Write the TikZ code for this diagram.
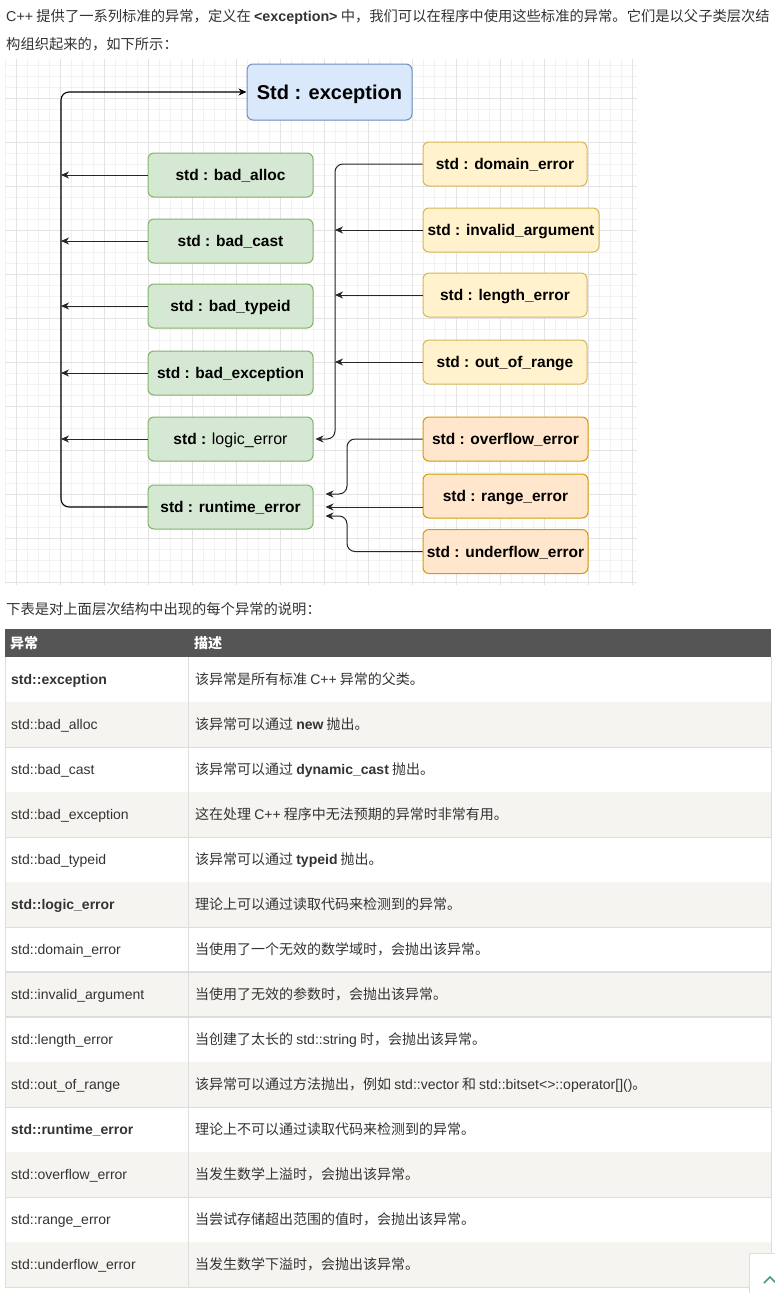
\documentclass[tikz,border=0pt]{standalone}
\usepackage{fontspec}
\setmainfont{Liberation Sans}
\newfontfamily\cjk{Noto Sans CJK SC}
\newfontfamily\lat{Liberation Sans}
\newcommand\en[1]{{\lat #1}}
\usetikzlibrary{
  calc
  , arrows.meta
}
\definecolor{excFill}{HTML}{DAE8FC}
\definecolor{excLine}{HTML}{6C8EBF}
\definecolor{grnFill}{HTML}{D5E8D4}
\definecolor{grnLine}{HTML}{82B366}
\definecolor{ylwFill}{HTML}{FFF2CC}
\definecolor{ylwLine}{HTML}{D6B656}
\definecolor{orgFill}{HTML}{FFE6CC}
\definecolor{orgLine}{HTML}{D79B00}
\definecolor{gridMinor}{HTML}{F2F2F2}
\definecolor{gridMajor}{HTML}{E3E3E3}
\definecolor{headFill}{HTML}{555555}
\definecolor{rowFill}{HTML}{F5F4F0}
\definecolor{rowLine}{HTML}{DDDDDD}
\definecolor{txtGray}{HTML}{333333}
\definecolor{topBtn}{HTML}{4A9A84}

\tikzset{
  clsbox/.style={draw, rounded corners=6pt, line width=1pt,
    minimum height=44pt, minimum width=165pt, inner sep=0pt,
    text height=11pt, text depth=0pt,
    font=\fontsize{15.5}{18}\selectfont\bfseries},
  basecls/.style={clsbox, fill=grnFill, draw=grnLine},
  logiccls/.style={clsbox, fill=ylwFill, draw=ylwLine, minimum width=164pt},
  rtcls/.style={clsbox, fill=orgFill, draw=orgLine},
  inherit/.style={draw=black!85, line width=1pt, rounded corners=8pt,
    -{Stealth[length=8pt,width=7pt,inset=2.5pt]}},
  pagetext/.style={anchor=base west, inner sep=0pt, text=txtGray,
    font=\fontsize{14.3}{17}\selectfont\cjk},
  celltext/.style={anchor=base west, inner sep=0pt, text=txtGray,
    font=\fontsize{14}{17}\selectfont},
}

\begin{document}
\begin{tikzpicture}[x=1pt, y=-1pt]
  \useasboundingbox[fill=white] (0,0) rectangle (775,1293);

  % intro text
  \node[pagetext] (introA) at (6,21) {\en{C++} 提供了一系列标准的异常，定义在 \en{\bfseries <exception>} 中，我们可以在程序中使用这些标准的异常。它们是以父子类层次结};
  \node[pagetext] (introB) at (6,49) {构组织起来的，如下所示：};

  % grid of the diagram
  \foreach \gx in {5,16,...,632} \draw[gridMinor] (\gx,59) -- (\gx,585);
  \foreach \gy in {65,76,...,582} \draw[gridMinor] (5,\gy) -- (637,\gy);
  \foreach \gx in {16,60,...,632} \draw[gridMajor] (\gx,59) -- (\gx,585);
  \foreach \gy in {98,142,...,582} \draw[gridMajor] (5,\gy) -- (637,\gy);

  % classes
  \node [clsbox,
    fill=excFill,
    draw=excLine,
    minimum height=56pt,
    text height=14.3pt,
    font=\fontsize{20}{24}\selectfont\bfseries,
  ] (exc) at (329.5,92) {Std : exception};

  \node[basecls] (bdAlloc) at (230.5,175) {std : bad\_alloc};
  \node[basecls] (bdCast) at (230.5,241) {std : bad\_cast};
  \node[basecls] (bdTypeid) at (230.5,306) {std : bad\_typeid};
  \node[basecls] (bdExc) at (230.5,373) {std : bad\_exception};
  \node[basecls] (logicErr) at (230.5,439) {std : {\mdseries\fontsize{16}{18}\selectfont logic\_error}};
  \node[basecls] (rtErr) at (230.5,507) {std : runtime\_error};

  \node[logiccls] (domErr) at (505,164) {std : domain\_error};
  \node[logiccls, minimum width=176pt] (invArg) at (511,230) {std : invalid\_argument};
  \node[logiccls] (lenErr) at (505,295) {std : length\_error};
  \node[logiccls] (oorErr) at (505,362) {std : out\_of\_range};

  \node[rtcls] (ovfErr) at (505.5,439) {std : overflow\_error};
  \node[rtcls] (rngErr) at (505.5,496) {std : range\_error};
  \node[rtcls] (unfErr) at (505.5,551.5) {std : underflow\_error};

  % connectors
  \coordinate (trunkL) at (61,92);
  \coordinate (trunkY) at (335,164);
  \coordinate (trunkO) at (347,439);
  \coordinate (rtIn) at ($(rtErr.east)+(12,0)$);

  \draw[inherit, line width=1.1pt, draw=black] (rtErr.west) -| (trunkL) -- (exc.west);
  \foreach \cls in {bdAlloc, bdCast, bdTypeid, bdExc, logicErr}
    \draw[inherit] (\cls.west) -- (\cls.west -| trunkL);

  \draw[inherit] (domErr.west) -- (trunkY) |- ($(logicErr.east)+(2,0)$);
  \foreach \cls in {invArg, lenErr, oorErr}
    \draw[inherit] (\cls.west) -- (\cls.west -| trunkY);

  \draw[inherit] (ovfErr.west) -| ($(rtIn -| trunkO)+(0,-13)$) -- ($(rtIn)+(0,-13)$);
  \draw[inherit] (rngErr.west |- rtIn) -- (rtIn);
  \draw[inherit] (unfErr.west) -| ($(rtIn -| trunkO)+(0,9)$) -- ($(rtIn)+(0,9)$);

  % table
  \node[pagetext] (tblCap) at (6,614) {下表是对上面层次结构中出现的每个异常的说明：};
  \fill[headFill] (5,629) rectangle (771,657);
  \node[celltext, text=white, font=\fontsize{14}{17}\selectfont\cjk\bfseries] (hdName) at (10,648) {异常};
  \node[celltext, text=white, font=\fontsize{14}{17}\selectfont\cjk\bfseries] (hdDesc) at (194,648) {描述};

  \foreach \nm/\ds [count=\i from 0] in {
    {\bfseries std::exception}/{该异常是所有标准 \en{C++} 异常的父类。},
    {std::bad\_alloc}/{该异常可以通过 \en{\bfseries new} 抛出。},
    {std::bad\_cast}/{该异常可以通过 \en{\bfseries dynamic\_cast} 抛出。},
    {std::bad\_exception}/{这在处理 \en{C++} 程序中无法预期的异常时非常有用。},
    {std::bad\_typeid}/{该异常可以通过 \en{\bfseries typeid} 抛出。},
    {\bfseries std::logic\_error}/{理论上可以通过读取代码来检测到的异常。},
    {std::domain\_error}/{当使用了一个无效的数学域时，会抛出该异常。},
    {std::invalid\_argument}/{当使用了无效的参数时，会抛出该异常。},
    {std::length\_error}/{当创建了太长的 \en{std::string} 时，会抛出该异常。},
    {std::out\_of\_range}/{该异常可以通过方法抛出，例如 \en{std::vector} 和 \en{std::bitset<>::operator[]()}。},
    {\bfseries std::runtime\_error}/{理论上不可以通过读取代码来检测到的异常。},
    {std::overflow\_error}/{当发生数学上溢时，会抛出该异常。},
    {std::range\_error}/{当尝试存储超出范围的值时，会抛出该异常。},
    {std::underflow\_error}/{当发生数学下溢时，会抛出该异常。}
  }{
    \pgfmathtruncatemacro\rowTop{657+45*\i}
    \ifodd\i\relax \fill[rowFill] (5,\rowTop) rectangle (771,\rowTop+45); \fi
    \draw[rowLine] (5,\rowTop+45) -- (771,\rowTop+45);
    \node[celltext] (name\i) at (11,\rowTop+27.5) {\nm};
    \node[celltext, font=\fontsize{14}{17}\selectfont\cjk] (desc\i) at (195,\rowTop+27.5) {\ds};
  }
  \draw[rowLine, line width=2pt] (5,972) -- (771,972) (5,1017) -- (771,1017);
  \draw[rowLine] (5,657) -- (5,1287) (188,657) -- (188,1287) (771,657) -- (771,1287);

  % back to top button
  \draw[rowLine, fill=white] (749,1253) rectangle (790,1300);
  \draw[topBtn, line width=1.5pt] (764,1283) -- (770,1277) -- (776,1283);
\end{tikzpicture}
\end{document}
